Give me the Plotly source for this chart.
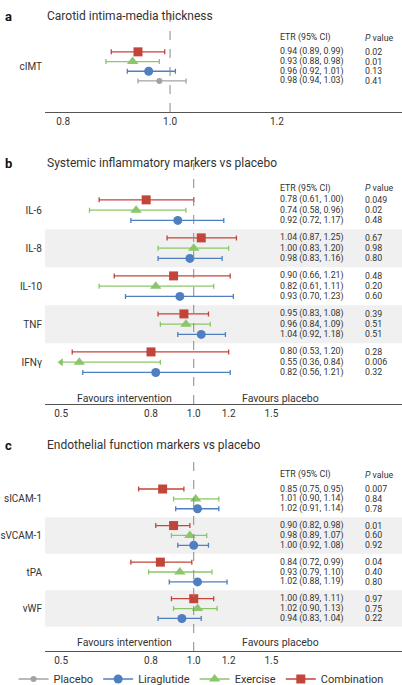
import plotly.graph_objects as go

# ---- data ----
ARMS = ["Combination", "Exercise", "Liraglutide", "Placebo"]
COLORS = {"Placebo": "#a3a3a3", "Liraglutide": "#4f7fc1", "Exercise": "#8cc66a", "Combination": "#c3453a"}
SYMBOLS = {"Placebo": "circle", "Liraglutide": "circle", "Exercise": "triangle-up", "Combination": "square"}
SIZES = {"Placebo": 6, "Liraglutide": 9, "Exercise": 10, "Combination": 9}

cimt_est = [0.94, 0.93, 0.96, 0.98]
cimt_lo = [0.89, 0.88, 0.92, 0.94]
cimt_hi = [0.99, 0.98, 1.01, 1.03]
cimt_p = ["0.02", "0.01", "0.13", "0.41"]

infl_markers = ["IL-6", "IL-8", "IL-10", "TNF", "IFNγ"]
infl_est = {
    "Combination": [0.78, 1.04, 0.90, 0.95, 0.80],
    "Exercise": [0.74, 1.00, 0.82, 0.96, 0.55],
    "Liraglutide": [0.92, 0.98, 0.93, 1.04, 0.82],
}
infl_lo = {
    "Combination": [0.61, 0.87, 0.66, 0.83, 0.53],
    "Exercise": [0.58, 0.83, 0.61, 0.84, 0.36],
    "Liraglutide": [0.72, 0.83, 0.70, 0.92, 0.56],
}
infl_hi = {
    "Combination": [1.00, 1.25, 1.21, 1.08, 1.20],
    "Exercise": [0.96, 1.20, 1.11, 1.09, 0.84],
    "Liraglutide": [1.17, 1.16, 1.23, 1.18, 1.21],
}
infl_p = {
    "Combination": ["0.049", "0.67", "0.48", "0.39", "0.28"],
    "Exercise": ["0.02", "0.98", "0.20", "0.51", "0.006"],
    "Liraglutide": ["0.48", "0.80", "0.60", "0.51", "0.32"],
}

endo_markers = ["sICAM-1", "sVCAM-1", "tPA", "vWF"]
endo_est = {
    "Combination": [0.85, 0.90, 0.84, 1.00],
    "Exercise": [1.01, 0.98, 0.93, 1.02],
    "Liraglutide": [1.02, 1.00, 1.02, 0.94],
}
endo_lo = {
    "Combination": [0.75, 0.82, 0.72, 0.89],
    "Exercise": [0.90, 0.89, 0.79, 0.90],
    "Liraglutide": [0.91, 0.92, 0.88, 0.83],
}
endo_hi = {
    "Combination": [0.95, 0.98, 0.99, 1.11],
    "Exercise": [1.14, 1.07, 1.10, 1.13],
    "Liraglutide": [1.14, 1.08, 1.19, 1.04],
}
endo_p = {
    "Combination": ["0.007", "0.01", "0.04", "0.97"],
    "Exercise": ["0.84", "0.60", "0.40", "0.75"],
    "Liraglutide": ["0.78", "0.92", "0.80", "0.22"],
}

lin_ticks = [0.8, 1.0, 1.2]
log_ticks = [0.5, 0.8, 1.0, 1.2, 1.5]
AXIS_MIN = 0.5  # left clip for arrows in log panels

H = 685
W = 402
FONT = "Roboto"
TXT = "#333333"


def py(px):
    return 1 - px / H


fig = go.Figure()
annotations = []
shapes = []


def add_arm(xa, ya, arm, est, lo, hi, ys):
    lo_c = [max(l, AXIS_MIN) if xa != "x" else l for l in lo]
    fig.add_trace(go.Scatter(
        x=est, y=ys, xaxis=xa, yaxis=ya, mode="markers", name=arm, showlegend=False,
        marker=dict(color=COLORS[arm], symbol=SYMBOLS[arm], size=SIZES[arm]),
        error_x=dict(type="data", symmetric=False,
                     array=[h - e for h, e in zip(hi, est)],
                     arrayminus=[e - l for e, l in zip(est, lo_c)],
                     color=COLORS[arm], thickness=1.3, width=2.5),
    ))
    # arrows where CI runs past the axis
    clipped = [(AXIS_MIN, y) for l, y in zip(lo, ys) if xa != "x" and l < AXIS_MIN]
    if clipped:
        fig.add_trace(go.Scatter(
            x=[c[0] for c in clipped], y=[c[1] for c in clipped], xaxis=xa, yaxis=ya,
            mode="markers", showlegend=False,
            marker=dict(color=COLORS[arm], symbol="triangle-left", size=7)))


def table_text(ya, y, etr, p):
    annotations.append(dict(xref="paper", yref=ya, x=278 / W, y=y, text=etr, showarrow=False,
                            xanchor="left", font=dict(size=8.8, color=TXT)))
    annotations.append(dict(xref="paper", yref=ya, x=363 / W, y=y, text=p, showarrow=False,
                            xanchor="left", font=dict(size=8.8, color=TXT)))


# ---- panel a ----
for i, arm in enumerate(ARMS):
    add_arm("x", "y", arm, [cimt_est[i]], [cimt_lo[i]], [cimt_hi[i]], [i])
    table_text("y", i, f"{cimt_est[i]:.2f} ({cimt_lo[i]:.2f}, {cimt_hi[i]:.2f})", cimt_p[i])
table_text("y", -1.45, "ETR (95% CI)", "<i>P</i> value")


# ---- panels b and c ----
def panel(xa, ya, markers, est, lo, hi, pv, header_y, fav_y):
    offs = {"Combination": -0.27, "Exercise": 0.0, "Liraglutide": 0.27}
    for g in range(len(markers)):
        if g % 2 == 1:
            shapes.append(dict(type="rect", xref="paper", yref=ya, x0=45 / W, x1=1, y0=g - 0.5, y1=g + 0.5,
                               fillcolor="#f0f0f0", line_width=0, layer="below"))
    for arm in ["Combination", "Exercise", "Liraglutide"]:
        ys = [g + offs[arm] for g in range(len(markers))]
        add_arm(xa, ya, arm, est[arm], lo[arm], hi[arm], ys)
        for g, y in enumerate(ys):
            table_text(ya, y, f"{est[arm][g]:.2f} ({lo[arm][g]:.2f}, {hi[arm][g]:.2f})", pv[arm][g])
    table_text(ya, header_y, "ETR (95% CI)", "<i>P</i> value")
    for txt, xp in [("Favours intervention", 125), ("Favours placebo", 280)]:
        annotations.append(dict(xref="paper", yref=ya, x=xp / W, y=fav_y, text=txt, showarrow=False,
                                xanchor="center", font=dict(size=10.5, color=TXT)))


panel("x2", "y2", infl_markers, infl_est, infl_lo, infl_hi, infl_p, -0.58, 4.95)
panel("x3", "y3", endo_markers, endo_est, endo_lo, endo_hi, endo_p, -0.66, 3.92)

# dashed reference lines
for xa, ya in [("x", "y"), ("x2", "y2"), ("x3", "y3")]:
    shapes.append(dict(type="line", xref=xa, yref=f"{ya} domain", x0=1, x1=1, y0=0, y1=1,
                       line=dict(color="#888888", width=1, dash="dash")))

# panel titles
for lab, title, ypx in [("a", "Carotid intima-media thickness", 7),
                        ("b", "Systemic inflammatory markers vs placebo", 154),
                        ("c", "Endothelial function markers vs placebo", 445)]:
    annotations.append(dict(xref="paper", yref="paper", x=3 / W, y=py(ypx), text=f"<b>{lab}</b>",
                            showarrow=False, xanchor="left", font=dict(size=13, color="#111")))
    annotations.append(dict(xref="paper", yref="paper", x=45 / W, y=py(ypx), text=title,
                            showarrow=False, xanchor="left", font=dict(size=12, color=TXT)))

# legend entries
for arm in ["Placebo", "Liraglutide", "Exercise", "Combination"]:
    fig.add_trace(go.Scatter(x=[None], y=[None], mode="lines+markers", name=arm,
                             line=dict(color=COLORS[arm], width=1.5),
                             marker=dict(color=COLORS[arm], symbol=SYMBOLS[arm], size=SIZES[arm])))

xcommon = dict(showline=True, linecolor="#555555", linewidth=1, ticks="", showgrid=False,
               zeroline=False, tickfont=dict(size=10, color=TXT), domain=[45 / W, 1], automargin=False)
ycommon = dict(showgrid=False, zeroline=False, showline=False, ticks="", automargin=False,
               tickfont=dict(size=10, color=TXT), ticklabelstandoff=2)

fig.update_layout(
    width=W, height=H, margin=dict(l=0, r=0, t=0, b=0, autoexpand=False),
    plot_bgcolor="white", paper_bgcolor="white", font=dict(family=FONT, color=TXT),
    xaxis=dict(xcommon, range=[0.766, 1.434], tickvals=lin_ticks, ticktext=["0.8", "1.0", "1.2"], anchor="y"),
    yaxis=dict(ycommon, domain=[py(112), py(15)], range=[6.2, -3.8], tickvals=[1.5], ticktext=["cIMT"], anchor="x"),
    xaxis2=dict(xcommon, type="log", range=[-0.3375, 0.4726], tickvals=log_ticks,
                ticktext=["0.5", "0.8", "1.0", "1.2", "1.5"], anchor="y2"),
    yaxis2=dict(ycommon, domain=[py(404), py(163)], range=[5.1, -1.24], tickvals=list(range(5)),
                ticktext=infl_markers, anchor="x2"),
    xaxis3=dict(xcommon, type="log", range=[-0.3375, 0.4726], tickvals=log_ticks,
                ticktext=["0.5", "0.8", "1.0", "1.2", "1.5"], anchor="y3"),
    yaxis3=dict(ycommon, domain=[py(651), py(455)], range=[4.16, -1.2], tickvals=list(range(4)),
                ticktext=endo_markers, anchor="x3"),
    legend=dict(orientation="h", x=0.5, xanchor="center", y=py(679), yanchor="middle",
                font=dict(size=11, color=TXT), tracegroupgap=0),
    annotations=annotations, shapes=shapes,
)

fig.write_html("out.html", config={"displayModeBar": False},
               post_script="document.body.style.margin='0';")
